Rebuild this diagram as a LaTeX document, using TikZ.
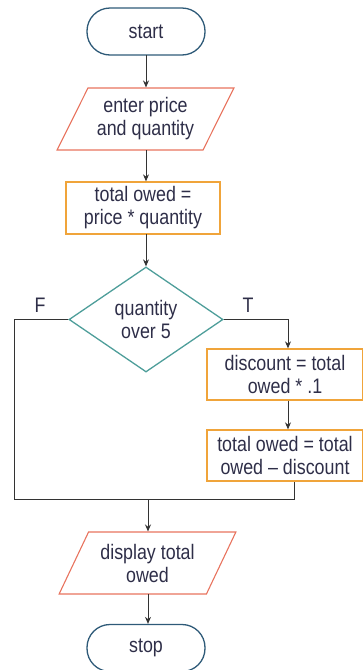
\documentclass[tikz,border=0pt]{standalone}
\usepackage{fontspec}
\setmainfont{Liberation Sans}[FakeStretch=0.85]
\usetikzlibrary{shapes.geometric,arrows.meta}
\definecolor{termc}{HTML}{2E5A78}
\definecolor{ioc}{HTML}{E8735E}
\definecolor{procc}{HTML}{F0A43A}
\definecolor{decc}{HTML}{4E9E9A}
\definecolor{linec}{HTML}{333333}
\definecolor{txtc}{HTML}{2E2E48}
\begin{document}
\begin{tikzpicture}[x=1pt,y=-1pt,
  every node/.style={font=\fontsize{21}{23}\selectfont, text=txtc, align=center, inner sep=0pt},
  term/.style={draw=termc, line width=1.3pt, rounded corners=23pt, minimum width=118pt, minimum height=47pt},
  io/.style={draw=ioc, line width=1.1pt, trapezium, trapezium left angle=58.5, trapezium right angle=121.5, trapezium stretches=true, minimum width=177pt, minimum height=62pt},
  proc/.style={draw=procc, line width=1.3pt, minimum width=154pt, minimum height=52pt},
  dec/.style={draw=decc, line width=1.3pt, diamond, minimum width=154pt, minimum height=105pt},
  conn/.style={draw=linec, line width=1pt},
  arr/.style={conn, -{Stealth[length=7pt,width=6pt]}}]
\useasboundingbox (0,0) rectangle (363,670);
\node[term] (start) at (146,31.5) {start};
\node[io] (in) at (145.5,119) {enter price\\and quantity};
\node[proc] (p1) at (143,208) {total owed =\\price * quantity};
\node[dec] (d) at (146,319.5) {quantity\\over 5};
\node[proc, minimum width=156pt, minimum height=51pt] (p2) at (285,374.5) {discount = total\\owed * .1};
\node[proc, minimum width=156pt, minimum height=51pt] (p3) at (285,455.5) {total owed = total\\owed -- discount};
\node[io] (out) at (147.5,563) {display total\\owed};
\node[term] (stop) at (146,648) {stop};
\node (F) at (40,305) {F};
\node (T) at (248,305) {T};
\coordinate (a1) at (146,55);
\coordinate (a2) at (146,150);
\coordinate (a3) at (146,234);
\coordinate (tx) at (288,319.5);
\coordinate (fl) at (14,499);
\coordinate (tr) at (294,499);
\coordinate (m) at (148,499);
\coordinate (a4) at (148,594);
\draw[arr] (a1) -- (a1 |- in.north);
\draw[arr] (a2) -- (a2 |- p1.north);
\draw[arr] (a3) -- (d.north);
\draw[arr] (d.east) -- (tx) -- (tx |- p2.north);
\draw[arr] (tx |- p2.south) -- (tx |- p3.north);
\draw[conn] (d.west) -| (fl) -- (tr) -- (tr |- p3.south);
\draw[arr] (m) -- (m |- out.north);
\draw[arr] (a4) -- (a4 |- stop.north);
\end{tikzpicture}
\end{document}
